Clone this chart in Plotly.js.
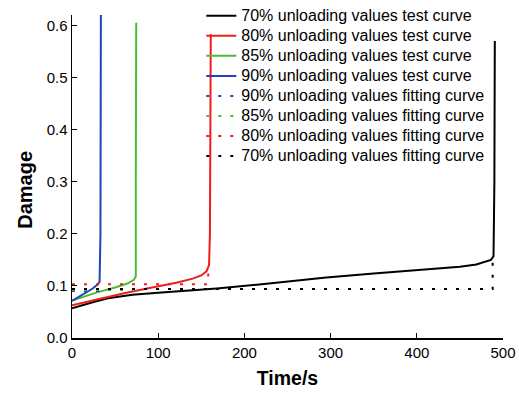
<!DOCTYPE html>
<html><head><meta charset="utf-8">
<script src="https://cdn.plot.ly/plotly-3.0.1.min.js"></script>
<style>html,body{margin:0;padding:0;background:#fff}#c{width:519px;height:394px}</style>
</head><body><div id="c"></div>
<script>
// 70% unloading test curve
var t70 = [0, 10, 25, 44, 70, 100, 140, 168, 220, 295, 350, 411, 450, 469, 480, 486, 489, 490, 490.5];
var d70 = [0.057, 0.062, 0.069, 0.077, 0.083, 0.087, 0.092, 0.095, 0.103, 0.116, 0.124, 0.132, 0.137, 0.141, 0.146, 0.150, 0.157, 0.3, 0.57];
// 80%
var t80 = [0, 20, 40, 63, 90, 121, 140, 150, 156, 159, 160, 161];
var d80 = [0.063, 0.071, 0.079, 0.087, 0.096, 0.106, 0.114, 0.12, 0.128, 0.14, 0.2, 0.583];
// 85%
var t85 = [0, 15, 30, 50, 65, 72, 74, 74, 74.5];
var d85 = [0.072, 0.08, 0.088, 0.097, 0.105, 0.112, 0.118, 0.3, 0.605];
// 90%
var t90 = [0, 8, 16, 24, 30, 32, 33, 33.5];
var d90 = [0.071, 0.079, 0.087, 0.095, 0.103, 0.108, 0.2, 0.62];
// fitting curves
var tf90 = [0, 31, 31], df90 = [0.09, 0.09, 0.1];
var tf85 = [0, 72, 72], df85 = [0.092, 0.092, 0.112];
var tf80 = [0, 158, 158], df80 = [0.103, 0.103, 0.14];
var tf70 = [0, 488, 488], df70 = [0.094, 0.094, 0.15];

var names = ["70% unloading values test curve","80% unloading values test curve","85% unloading values test curve","90% unloading values test curve",
 "90% unloading values fitting curve","85% unloading values fitting curve","80% unloading values fitting curve","70% unloading values fitting curve"];
var xTicks = [0,100,200,300,400,500];
var yTicks = [0,0.1,0.2,0.3,0.4,0.5,0.6];
var yTickText = ["0.0","0.1","0.2","0.3","0.4","0.5","0.6"];
var cBlack="#000000", cRed="#f01c1c", cGreen="#4cbb34", cBlue="#2244bb";
var dotDash = "3px,9px";
function tr(x,y,name,color,dash){
  return {x:x,y:y,name:'<span style="font-size:16px">'+name+'</span>',type:"scatter",mode:"lines",line:{color:color,width:2,dash:dash||"solid"}};
}
var data = [
  tr(t70,d70,names[0],cBlack), tr(t80,d80,names[1],cRed), tr(t85,d85,names[2],cGreen), tr(t90,d90,names[3],cBlue),
  tr(tf90,df90,names[4],cBlue,dotDash), tr(tf85,df85,names[5],cGreen,dotDash), tr(tf80,df80,names[6],cRed,dotDash), tr(tf70,df70,names[7],cBlack,dotDash)
];
var layout = {
  width:519, height:394, paper_bgcolor:"#fff", plot_bgcolor:"#fff",
  margin:{l:72,r:16,t:15,b:55.5,autoexpand:false},
  font:{family:"Liberation Sans, Arial, sans-serif", color:"#000", size:15},
  xaxis:{range:[0,500], tickvals:xTicks, ticks:"inside", ticklen:5, tickwidth:1, tickcolor:"#000",
    showline:true, linecolor:"#000", linewidth:1.5, showgrid:false, zeroline:false,
    tickfont:{size:15}, title:{text:"<b>Time/s</b>", font:{size:19.5}, standoff:12}},
  yaxis:{range:[0,0.62], tickvals:yTicks, ticktext:yTickText,
    ticks:"inside", ticklen:5, tickwidth:1, tickcolor:"#000",
    showline:true, linecolor:"#000", linewidth:1.5, showgrid:false, zeroline:false,
    tickfont:{size:15}},
  annotations:[{text:"<b>Damage</b>", xref:"paper", yref:"paper", x:(25-72)/431, y:(338.5-190)/323.5,
    xanchor:"center", yanchor:"middle", textangle:-90, showarrow:false, font:{size:20}}],
  showlegend:true,
  legend:{x:0.300, y:1.044, xanchor:"left", yanchor:"top", bgcolor:"rgba(0,0,0,0)", font:{size:13.1}, tracegroupgap:0, itemwidth:30}
};
Plotly.newPlot("c", data, layout, {displayModeBar:false, staticPlot:true});
</script></body></html>
